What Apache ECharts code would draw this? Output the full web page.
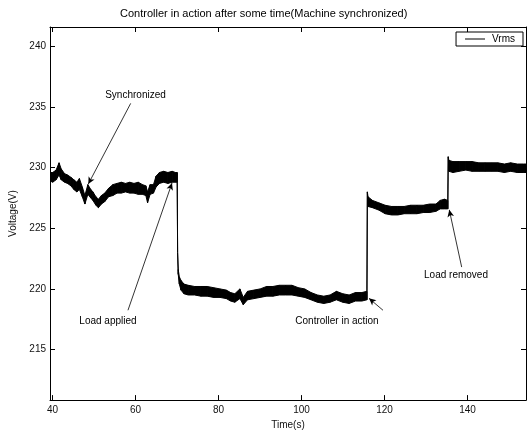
<!DOCTYPE html>
<html><head><meta charset="utf-8">
<script src="https://cdn.jsdelivr.net/npm/echarts@6/dist/echarts.min.js"></script>
<style>html,body{margin:0;padding:0;background:#fff}#c{width:532px;height:435px}</style>
</head><body><div id="c"></div>
<script>
const chartTitle = 'Controller in action after some time(Machine synchronized)';
const xName = 'Time(s)';
const yName = 'Voltage(V)';
const seriesName = 'Vrms';
const xRange = [39.4, 154.1];
const yRange = [210.83, 241.6];

// time (s) with lower / upper edge of the noisy Vrms trace (V)
const time = [39.44,40.05,40.87,41.58,42.09,42.91,43.62,44.44,45.15,45.87,46.48,47.19,47.81,48.52,49.23,49.74,50.46,51.07,51.79,52.6,53.52,54.54,55.56,56.58,57.6,58.62,59.64,60.66,61.68,62.5,62.91,63.52,64.34,64.95,65.77,66.79,67.81,68.83,69.64,70.05,
  70.15,70.3,70.56,70.97,71.68,72.7,74.24,75.77,77.3,78.83,80.36,81.89,82.91,83.93,85.16,85.97,86.99,88.52,90.05,91.58,93.11,94.65,96.18,97.71,99.24,100.77,102.3,103.83,105.36,106.89,108.42,109.95,111.48,113.01,114.54,115.77,
  115.87,116.03,117.1,118.63,120.16,121.69,123.22,124.75,126.28,127.81,129.34,130.87,132.4,133.43,134.45,135.26,
  135.36,135.52,136.5,138.0,139.6,141.1,142.7,144.2,145.8,147.3,148.9,150.4,152.0,153.5,154.1];
const lower = [228.9,228.8,229.0,229.4,229.0,228.8,228.7,228.5,228.2,228.0,228.2,227.6,227.0,227.8,227.5,227.3,226.9,226.7,227.0,227.2,227.6,227.7,227.9,227.9,228.0,227.9,227.9,227.8,227.8,227.7,227.1,227.8,227.9,228.4,228.7,228.8,228.7,228.8,228.8,228.8,
  223.0,221.2,220.4,219.9,219.6,219.5,219.5,219.4,219.4,219.3,219.3,219.2,219.0,218.9,219.2,218.7,219.1,219.2,219.3,219.4,219.4,219.5,219.5,219.5,219.4,219.3,219.1,218.9,218.8,218.9,219.1,218.9,218.8,219.0,219.0,219.1,
  228.0,226.8,226.7,226.5,226.2,226.1,226.1,226.2,226.2,226.2,226.3,226.3,226.4,226.6,226.6,226.6,
  230.9,229.7,229.6,229.7,229.8,229.7,229.7,229.7,229.7,229.7,229.6,229.7,229.6,229.6,229.6];
const upper = [229.6,229.6,229.8,230.4,229.9,229.5,229.4,229.2,229.0,228.8,229.1,228.4,227.7,228.6,228.2,228.0,227.6,227.4,227.7,227.9,228.3,228.6,228.7,228.8,228.7,228.8,228.7,228.8,228.6,228.5,228.0,228.6,228.6,229.3,229.6,229.7,229.6,229.7,229.6,229.6,
  223.0,221.6,221.0,220.7,220.4,220.3,220.2,220.2,220.2,220.1,220.0,219.9,219.7,219.6,220.0,219.3,219.8,219.9,220.0,220.2,220.2,220.3,220.3,220.3,220.1,220.0,219.7,219.5,219.4,219.5,219.8,219.6,219.5,219.7,219.7,219.8,
  228.0,227.6,227.3,227.1,226.9,226.8,226.8,226.8,226.9,226.9,226.9,227.0,227.0,227.3,227.4,227.3,
  230.9,230.6,230.5,230.5,230.5,230.5,230.4,230.4,230.4,230.4,230.3,230.4,230.3,230.3,230.3];

// annotations (data coordinates)
const annotationText = ['Synchronized', 'Load applied', 'Controller in action', 'Load removed'];
const annotationTextAt = [[60.0, 235.94], [53.37, 217.34], [108.55, 217.34], [137.23, 221.1]];
const arrowFrom = [[58.84, 235.3], [58.19, 218.24], [119.64, 218.24], [138.6, 221.8]];
const arrowTo = [[48.63, 228.65], [68.8, 228.73], [116.27, 219.22], [135.61, 226.52]];

const FONT = '"Liberation Sans", Arial, Helvetica, sans-serif';
const near = (v, step) => Math.abs(v - Math.round(v / step) * step) < 1e-6;

const chart = echarts.init(document.getElementById('c'), null, {renderer: 'canvas'});
const axisCommon = {
  type: 'value',
  axisLine: {show: true, onZero: false, lineStyle: {color: '#000', width: 1}},
  axisTick: {show: true, inside: true, length: 5, lineStyle: {color: '#000', width: 1}},
  splitLine: {show: false}
};
chart.setOption({
  animation: false,
  backgroundColor: '#fff',
  textStyle: {fontFamily: FONT},
  title: {text: chartTitle, left: 120, top: 8, padding: 0,
    textStyle: {fontSize: 11, fontWeight: 'normal', color: '#000', fontFamily: FONT}},
  legend: {
    data: [seriesName], right: 9, top: 32, orient: 'horizontal',
    icon: 'rect', itemWidth: 20, itemHeight: 1, itemGap: 6,
    backgroundColor: '#fff', borderColor: '#000', borderWidth: 1, borderRadius: 0,
    padding: [2, 8, 2, 9],
    itemStyle: {color: '#000'},
    textStyle: {fontSize: 10, color: '#000', fontFamily: FONT, padding: [0, 0, 0, 2]}
  },
  grid: {left: 50, right: 6, top: 27, bottom: 32},
  xAxis: [
    Object.assign({}, axisCommon, {
      position: 'bottom', min: xRange[0], max: xRange[1],
      name: xName, nameLocation: 'middle', nameGap: 16,
      nameTextStyle: {fontSize: 10, color: '#111', fontFamily: FONT},
      axisLabel: {fontSize: 10, color: '#111', margin: 5, fontFamily: FONT,
        formatter: v => near(v, 20) ? String(Math.round(v)) : ''}
    }),
    Object.assign({}, axisCommon, {
      position: 'top', min: xRange[0], max: xRange[1], axisLabel: {show: false}
    })
  ],
  yAxis: [
    Object.assign({}, axisCommon, {
      position: 'left', min: yRange[0], max: yRange[1],
      name: yName, nameLocation: 'middle', nameGap: 29,
      nameTextStyle: {fontSize: 10, color: '#111', fontFamily: FONT},
      axisLabel: {fontSize: 10, color: '#111', margin: 4, fontFamily: FONT,
        formatter: v => near(v, 5) ? String(Math.round(v)) : ''}
    }),
    Object.assign({}, axisCommon, {
      position: 'right', min: yRange[0], max: yRange[1], axisLabel: {show: false}
    })
  ],
  series: [
    {
      name: seriesName, type: 'custom', coordinateSystem: 'cartesian2d',
      xAxisIndex: 0, yAxisIndex: 0,
      data: time.map((t, i) => [t, lower[i], upper[i]]),
      encode: {x: 0, y: [1, 2]},
      itemStyle: {color: '#000'},
      clip: true,
      renderItem: (params, api) => {
        const i = params.dataIndex;
        if (i >= time.length - 1) return null;
        const pts = [
          api.coord([time[i], lower[i]]), api.coord([time[i + 1], lower[i + 1]]),
          api.coord([time[i + 1], upper[i + 1]]), api.coord([time[i], upper[i]])
        ];
        return {type: 'polygon', shape: {points: pts},
          style: {fill: '#000', stroke: '#000', lineWidth: 1, lineJoin: 'round'}};
      },
      markLine: {
        silent: true, animation: false,
        symbol: ['none', 'arrow'], symbolSize: 7,
        itemStyle: {color: '#000'},
        lineStyle: {color: '#000', width: 0.8, type: 'solid'},
        label: {show: false},
        data: arrowFrom.map((f, i) => [
          {coord: f, symbol: 'none'},
          {coord: arrowTo[i], symbol: 'arrow', symbolSize: [5, 7]}
        ])
      },
      markPoint: {
        silent: true, animation: false, symbol: 'circle', symbolSize: 0,
        itemStyle: {color: 'rgba(0,0,0,0)'},
        label: {show: true, position: 'inside', color: '#000', fontSize: 10, fontFamily: FONT,
          formatter: p => p.name},
        data: annotationText.map((s, i) => ({name: s, coord: annotationTextAt[i]}))
      }
    }
  ]
});
</script>
</body></html>
